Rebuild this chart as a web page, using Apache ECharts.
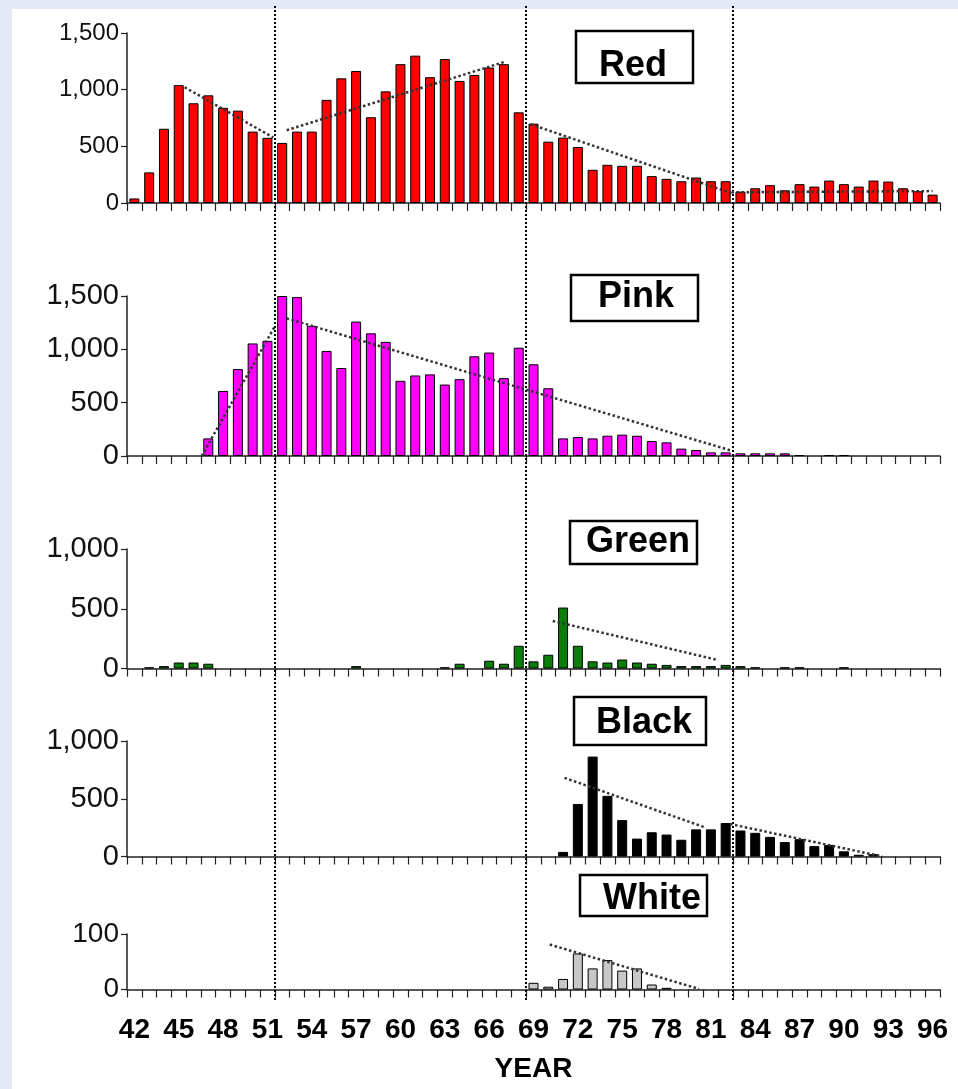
<!DOCTYPE html>
<html>
<head>
<meta charset="utf-8">
<script src="https://cdn.jsdelivr.net/npm/echarts@6/dist/echarts.min.js"></script>
<style>
html,body{margin:0;padding:0;width:958px;height:1089px;overflow:hidden;background:#e4eaf5;}
#paper{position:absolute;left:12px;top:9px;width:946px;height:1080px;background:#ffffff;}
#chart{position:absolute;left:0;top:0;width:958px;height:1089px;}
</style>
</head>
<body>
<div id="paper"></div>
<div id="chart"></div>
<script>
// Categories (years)
var years = ['42','43','44','45','46','47','48','49','50','51','52','53','54','55','56','57','58','59','60','61','62','63','64','65','66','67','68','69','70','71','72','73','74','75','76','77','78','79','80','81','82','83','84','85','86','87','88','89','90','91','92','93','94','95','96'];

// Series values (null = no bar)
var red = [40,270,655,1040,880,950,840,815,630,575,530,630,630,910,1100,1165,757,985,1225,1300,1110,1270,1077,1130,1195,1225,800,700,541,577,494,293,337,328,328,237,213,192,225,192,192,100,130,157,112,166,145,198,166,145,198,189,130,104,74];
var pink = [null,null,null,null,null,165,610,815,1055,1080,1500,1490,1220,985,825,1260,1150,1070,705,755,765,670,720,935,970,730,1015,860,635,165,178,165,190,200,190,140,128,69,56,34,34,25,25,25,25,9,null,9,9,null,null,null,null,null,null];
var green = [null,10,20,50,50,40,null,null,null,null,null,null,null,null,null,20,null,null,null,null,null,10,40,null,65,40,190,60,115,510,190,60,50,75,50,40,30,20,20,20,30,20,10,null,10,10,null,null,10,null,null,null,null,null,null];
var black = [null,null,null,null,null,null,null,null,null,null,null,null,null,null,null,null,null,null,null,null,null,null,null,null,null,null,null,null,null,40,455,865,525,315,155,210,190,145,235,235,290,225,205,170,125,150,90,100,45,15,20,null,null,null,null];
var white = [null,null,null,null,null,null,null,null,null,null,null,null,null,null,null,null,null,null,null,null,null,null,null,null,null,null,null,12,5,19,65,38,53,34,38,9,3,null,null,null,null,null,null,null,null,null,null,null,null,null,null,null,null,null,null];

// Trend lines: [category position (0..55), value]
var redTrends = [[[3.9,1021],[9.9,577]], [[10.8,642],[25.6,1248]], [[27.3,695],[40.9,86]], [[40.9,95],[54.5,105]]];
var pinkTrends = [[[5.05,0],[10.0,1215]], [[10.8,1290],[40.9,50]]];
var greenTrends = [[[28.8,398],[40.0,70]]];
var blackTrends = [[[29.6,681],[39.1,252]], [[40.8,281],[51.1,0]]];
var whiteTrends = [[[28.6,81],[38.7,1]]];

// Period boundaries (category boundaries)
var boundaries = [10, 27, 41];

// Y axis settings
var yMax = [1500, 1500, 1000, 1000, 100];
var yInterval = [500, 500, 500, 500, 100];
var panelNames = ['Red','Pink','Green','Black','White'];

var panels = [
  {data: red, color: '#ff0000', trends: redTrends, top: 33, height: 170, font: 24},
  {data: pink, color: '#ff00ff', trends: pinkTrends, top: 296, height: 160, font: 29},
  {data: green, color: '#0b7d0b', trends: greenTrends, top: 549, height: 119.5, font: 29},
  {data: black, color: '#000000', trends: blackTrends, top: 741, height: 115.5, font: 29},
  {data: white, color: '#c8c8c8', trends: whiteTrends, top: 934, height: 55.5, font: 28}
];
var boxes = [
  {x: 576, y: 31, w: 117, h: 52, tx: 633, ty: 66},
  {x: 571, y: 275, w: 127, h: 46, tx: 636, ty: 297},
  {x: 570, y: 521, w: 127, h: 43, tx: 638, ty: 542},
  {x: 574, y: 697, w: 132, h: 48, tx: 644, ty: 723},
  {x: 580, y: 875, w: 127, h: 41, tx: 652, ty: 899}
];

var FONT = '"Liberation Sans", Arial, sans-serif';
var grid = [], xAxis = [], yAxis = [], series = [], graphic = [];

panels.forEach(function (p, i) {
  grid.push({left: 127, right: 18, top: p.top, height: p.height});
  var last = (i === panels.length - 1);
  // category axis for bars
  xAxis.push({
    type: 'category', gridIndex: i, data: years, boundaryGap: true,
    axisLine: {show: true, lineStyle: {color: '#222', width: 1.5}},
    axisTick: {show: true, interval: 0, length: 8, lineStyle: {color: '#222', width: 1.2}},
    axisLabel: {show: last, interval: 2, margin: 27, color: '#000', fontSize: 28, fontWeight: 'bold', fontFamily: FONT},
    name: last ? 'YEAR' : '', nameLocation: 'middle', nameGap: 66,
    nameTextStyle: {color: '#000', fontSize: 28, fontWeight: 'bold', fontFamily: FONT}
  });
  // value axis (hidden) for trend lines
  xAxis.push({type: 'value', gridIndex: i, min: 0, max: 55, show: false});
  yAxis.push({
    type: 'value', gridIndex: i, min: 0, max: yMax[i], interval: yInterval[i],
    axisLine: {show: true, lineStyle: {color: '#222', width: 1.5}},
    axisTick: {show: true, length: 6, lineStyle: {color: '#222', width: 1.2}},
    splitLine: {show: false},
    axisLabel: {margin: 8, color: '#111', fontSize: p.font, fontFamily: FONT,
      formatter: function (v) { return v.toLocaleString('en-US'); }}
  });
  series.push({
    type: 'bar', xAxisIndex: 2 * i, yAxisIndex: i, data: p.data, barWidth: 10,
    itemStyle: {color: p.color, borderColor: '#000', borderWidth: 1},
    silent: true, animation: false
  });
  p.trends.forEach(function (seg) {
    series.push({
      type: 'line', xAxisIndex: 2 * i + 1, yAxisIndex: i, data: seg,
      symbol: 'none', silent: true, animation: false, z: 5,
      lineStyle: {color: '#333', width: 2.5, type: 'dotted'}
    });
  });
  var b = boxes[i];
  graphic.push({type: 'rect', shape: {x: b.x, y: b.y, width: b.w, height: b.h},
    style: {fill: '#fff', stroke: '#000', lineWidth: 2.5}, z: 10});
  graphic.push({type: 'text', x: b.tx, y: b.ty, z: 11,
    style: {text: panelNames[i], font: 'bold 36px ' + FONT, fill: '#000', textAlign: 'center', textVerticalAlign: 'middle'}});
});

// full-height grid for the period boundary lines
grid.push({left: 127, right: 18, top: 5, height: 995});
xAxis.push({type: 'value', gridIndex: 5, min: 0, max: 55, show: false});
yAxis.push({type: 'value', gridIndex: 5, min: 0, max: 1, show: false});
series.push({
  type: 'line', xAxisIndex: 10, yAxisIndex: 5, data: [], silent: true, animation: false, z: 20,
  markLine: {symbol: 'none', silent: true, animation: false, label: {show: false},
    lineStyle: {color: '#000', width: 2, type: 'dotted'},
    data: boundaries.map(function (v) { return {xAxis: v}; })}
});

var chart = echarts.init(document.getElementById('chart'), null, {renderer: 'canvas'});
chart.setOption({
  backgroundColor: 'transparent',
  animation: false,
  grid: grid, xAxis: xAxis, yAxis: yAxis, series: series, graphic: graphic
});
</script>
</body>
</html>
